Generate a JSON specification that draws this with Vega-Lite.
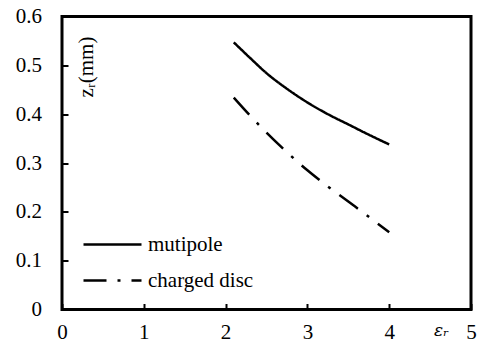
{
  "$schema": "https://vega.github.io/schema/vega-lite/v6.json",
  "width": 409,
  "height": 293,
  "autosize": {"type": "none"},
  "padding": {"left": 62, "top": 16.5, "right": 12, "bottom": 36.5},
  "background": "white",
  "config": {
    "view": {"stroke": "black", "strokeWidth": 3}
  },
  "data": {
    "values": [
      {"series": "mutipole", "er": 2.1, "zr": 0.547},
      {"series": "mutipole", "er": 2.3, "zr": 0.515},
      {"series": "mutipole", "er": 2.5, "zr": 0.484},
      {"series": "mutipole", "er": 2.75, "zr": 0.452},
      {"series": "mutipole", "er": 3.0, "zr": 0.424},
      {"series": "mutipole", "er": 3.25, "zr": 0.4},
      {"series": "mutipole", "er": 3.5, "zr": 0.379},
      {"series": "mutipole", "er": 3.75, "zr": 0.358},
      {"series": "mutipole", "er": 4.0, "zr": 0.338},
      {"series": "charged disc", "er": 2.1, "zr": 0.434},
      {"series": "charged disc", "er": 2.3, "zr": 0.397},
      {"series": "charged disc", "er": 2.5, "zr": 0.362},
      {"series": "charged disc", "er": 2.75, "zr": 0.322},
      {"series": "charged disc", "er": 3.0, "zr": 0.285},
      {"series": "charged disc", "er": 3.25, "zr": 0.252},
      {"series": "charged disc", "er": 3.5, "zr": 0.221},
      {"series": "charged disc", "er": 3.75, "zr": 0.19},
      {"series": "charged disc", "er": 4.0, "zr": 0.158}
    ]
  },
  "mark": {"type": "line", "color": "black", "strokeWidth": 2.5, "strokeCap": "butt", "interpolate": "monotone"},
  "encoding": {
    "x": {
      "field": "er", "type": "quantitative",
      "scale": {"domain": [0, 5], "nice": false, "zero": false},
      "axis": {
        "values": [0, 1, 2, 3, 4, 5], "format": "d",
        "domain": false, "grid": false,
        "tickSize": -6, "tickColor": "black", "tickWidth": 2,
        "labelFont": "Liberation Serif",
        "labelFontSize": 21, "labelColor": "black", "labelPadding": 17.5,
        "labelFlush": false, "labelOverlap": false,
        "title": "εᵣ", "titleFont": "DejaVu Serif", "titleFontStyle": "italic", "titleFontWeight": "normal",
        "titleFontSize": 17, "titleColor": "black",
        "titleX": 379, "titleY": 21, "titleAlign": "center", "titleBaseline": "middle"
      }
    },
    "y": {
      "field": "zr", "type": "quantitative",
      "scale": {"domain": [0, 0.6], "nice": false, "zero": false},
      "axis": {
        "values": [0, 0.1, 0.2, 0.3, 0.4, 0.5, 0.6], "format": "~g",
        "domain": false, "grid": false,
        "tickSize": -6, "tickColor": "black", "tickWidth": 2,
        "labelFont": "Liberation Serif",
        "labelFontSize": 21, "labelColor": "black", "labelPadding": 26.5,
        "labelFlush": false, "labelOverlap": false,
        "title": "zᵣ(mm)", "titleFont": "Liberation Serif", "titleFontWeight": "normal",
        "titleFontSize": 21, "titleColor": "black", "titleAngle": -90,
        "titleX": 30, "titleY": 50, "titleAlign": "center", "titleBaseline": "alphabetic"
      }
    },
    "strokeDash": {
      "field": "series", "type": "nominal",
      "scale": {"domain": ["mutipole", "charged disc"], "range": [[1, 0], [23, 11, 3, 11]]},
      "legend": {
        "orient": "none", "legendX": 20, "legendY": 218, "title": null,
        "symbolType": "stroke", "symbolSize": 3364, "symbolStrokeWidth": 2.5,
        "symbolStrokeColor": "black",
        "labelFont": "Liberation Serif",
        "labelFontSize": 21, "labelColor": "black", "labelOffset": 5,
        "clipHeight": 20, "rowPadding": 15
      }
    }
  }
}
